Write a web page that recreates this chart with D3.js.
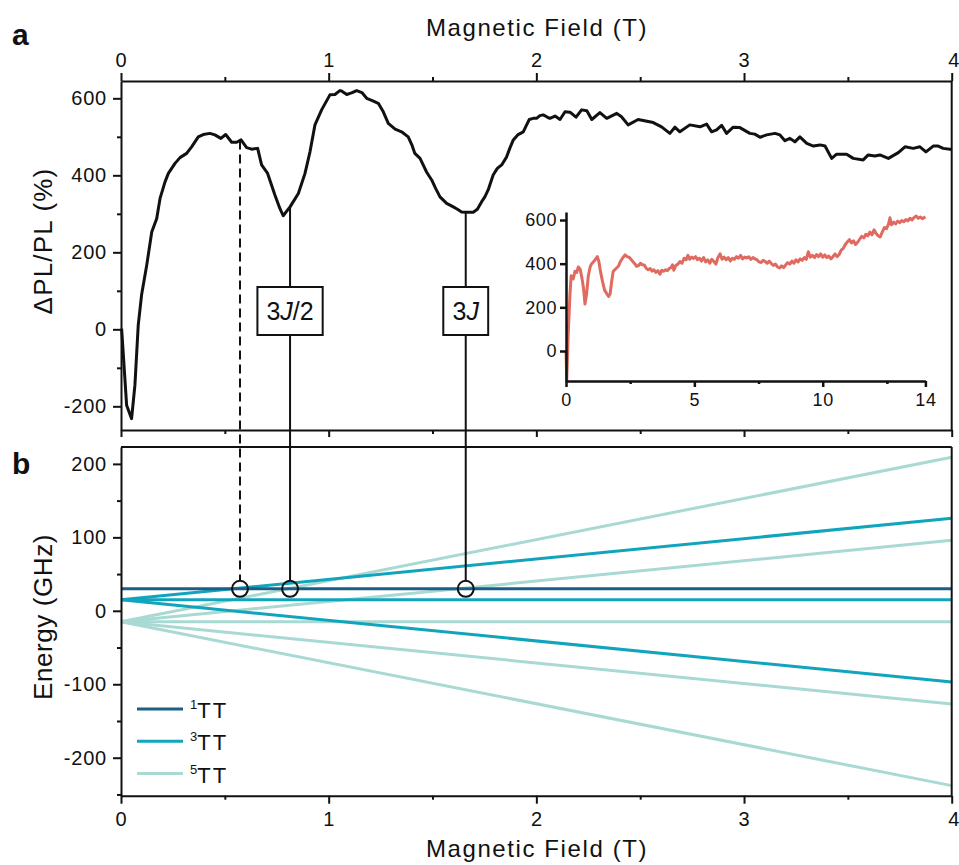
<!DOCTYPE html>
<html>
<head>
<meta charset="utf-8">
<script src="https://cdn.jsdelivr.net/npm/d3@7"></script>
<style>
  html, body { margin: 0; padding: 0; background: #fff; }
  svg { display: block; font-family: "Liberation Sans", Arial, sans-serif; }
</style>
</head>
<body>
<svg id="chart" width="959" height="865"></svg>
<script>
// ---- Panel a: PL change vs magnetic field (0–4 T) ----
const fieldA = [0.003, 0.027, 0.051, 0.067, 0.083, 0.099, 0.124, 0.148, 0.172, 0.188, 0.212, 0.228, 0.26, 0.284, 0.316, 0.34, 0.372, 0.396, 0.428, 0.452, 0.481, 0.504, 0.533, 0.557, 0.578, 0.605, 0.629, 0.658, 0.677, 0.706, 0.741, 0.765, 0.781, 0.814, 0.854, 0.886, 0.91, 0.934, 0.966, 1.006, 1.03, 1.054, 1.062, 1.087, 1.11, 1.135, 1.16, 1.183, 1.21, 1.239, 1.263, 1.287, 1.32, 1.351, 1.383, 1.40, 1.415, 1.44, 1.472, 1.496, 1.515, 1.536, 1.568, 1.6, 1.62, 1.64, 1.672, 1.696, 1.716, 1.736, 1.752, 1.768, 1.792, 1.812, 1.833, 1.857, 1.872, 1.889, 1.91, 1.937, 1.952, 1.966, 1.985, 2.001, 2.017, 2.033, 2.05, 2.065, 2.09, 2.114, 2.138, 2.162, 2.191, 2.218, 2.243, 2.267, 2.306, 2.339, 2.387, 2.41, 2.442, 2.49, 2.563, 2.603, 2.643, 2.667, 2.691, 2.739, 2.788, 2.82, 2.844, 2.868, 2.892, 2.916, 2.948, 2.98, 3.028, 3.052, 3.077, 3.109, 3.149, 3.173, 3.197, 3.221, 3.245, 3.269, 3.302, 3.334, 3.366, 3.39, 3.422, 3.446, 3.494, 3.526, 3.574, 3.598, 3.63, 3.654, 3.695, 3.743, 3.775, 3.815, 3.847, 3.876, 3.911, 3.935, 3.959, 4.0];
const dplA = [2, -197, -232, -145, 11, 89, 167, 253, 288, 340, 383, 405, 431, 446, 457, 474, 500, 506, 509, 505, 496, 506, 486, 486, 492, 472, 468, 470, 427, 405, 349, 314, 295, 318, 353, 405, 461, 531, 570, 609, 610, 620, 619, 610, 614, 620, 615, 600, 594, 587, 565, 535, 520, 513, 500, 480, 457, 444, 408, 388, 366, 344, 327, 318, 312, 305, 304, 304, 312, 331, 344, 362, 401, 418, 427, 448, 470, 492, 505, 513, 530, 545, 548, 548, 555, 557, 552, 548, 554, 545, 565, 564, 551, 570, 568, 545, 563, 548, 561, 552, 531, 545, 537, 526, 509, 525, 513, 531, 526, 533, 513, 518, 530, 509, 525, 524, 509, 507, 499, 505, 509, 505, 490, 496, 487, 500, 483, 476, 479, 476, 444, 455, 455, 444, 440, 453, 450, 453, 444, 459, 474, 470, 474, 461, 476, 476, 470, 467];

// ---- Inset: extended sweep (0–14 T) ----
const fieldInset = [0, 0.03, 0.08, 0.15, 0.2, 0.28, 0.35, 0.42, 0.48, 0.55, 0.62, 0.68, 0.74, 0.8, 0.87, 0.94, 1.0, 1.08, 1.15, 1.22, 1.28, 1.35, 1.42, 1.5, 1.59, 1.66, 1.72, 1.78, 1.84, 1.9, 1.97, 2.04, 2.12, 2.2, 2.3, 2.38, 2.45, 2.52, 2.6, 2.68, 2.75, 2.83, 2.9, 2.97, 3.05, 3.12, 3.2, 3.28, 3.35, 3.42, 3.5, 3.58, 3.66, 3.73, 3.8, 3.88, 3.95, 4.02, 4.1, 4.15, 4.2, 4.28, 4.36, 4.44, 4.52, 4.6, 4.68, 4.75, 4.82, 4.9, 4.97, 5.05, 5.12, 5.2, 5.28, 5.36, 5.44, 5.52, 5.6, 5.68, 5.76, 5.84, 5.92, 6.0, 6.08, 6.16, 6.24, 6.32, 6.4, 6.48, 6.56, 6.64, 6.72, 6.8, 6.88, 6.96, 7.04, 7.12, 7.2, 7.28, 7.36, 7.44, 7.52, 7.6, 7.68, 7.76, 7.84, 7.92, 8.0, 8.08, 8.16, 8.24, 8.32, 8.4, 8.48, 8.56, 8.64, 8.72, 8.8, 8.88, 8.96, 9.04, 9.12, 9.2, 9.28, 9.36, 9.44, 9.52, 9.6, 9.68, 9.76, 9.84, 9.92, 10.0, 10.08, 10.16, 10.24, 10.32, 10.4, 10.48, 10.56, 10.64, 10.72, 10.8, 10.88, 10.96, 11.04, 11.12, 11.2, 11.28, 11.36, 11.44, 11.52, 11.6, 11.68, 11.76, 11.84, 11.92, 12.0, 12.08, 12.16, 12.24, 12.32, 12.4, 12.48, 12.56, 12.62, 12.68, 12.76, 12.84, 12.92, 13.0, 13.08, 13.16, 13.24, 13.32, 13.4, 13.48, 13.56, 13.64, 13.72, 13.8, 13.88, 13.96, 14.0];
const dplInset = [0, -135, 60, 250, 345, 330, 365, 360, 385, 375, 335, 290, 215, 260, 345, 385, 400, 410, 420, 432, 410, 360, 320, 280, 262, 250, 262, 320, 365, 372, 380, 388, 410, 425, 440, 432, 430, 422, 410, 400, 388, 392, 402, 395, 394, 380, 372, 378, 366, 372, 360, 368, 352, 370, 365, 372, 368, 378, 383, 395, 370, 392, 398, 410, 402, 425, 418, 438, 420, 430, 424, 432, 418, 425, 412, 428, 408, 418, 402, 420, 410, 398, 428, 445, 420, 430, 418, 428, 412, 425, 420, 432, 425, 438, 422, 430, 426, 432, 420, 428, 422, 418, 408, 405, 415, 410, 402, 412, 400, 392, 398, 385, 380, 390, 382, 395, 405, 398, 412, 402, 418, 408, 422, 415, 428, 420, 455, 430, 438, 428, 442, 432, 445, 430, 440, 428, 435, 422, 432, 445, 432, 442, 462, 470, 488, 500, 510, 495, 505, 488, 498, 512, 525, 518, 535, 528, 545, 532, 555, 538, 528, 522, 545, 565, 560, 580, 610, 578, 590, 582, 595, 588, 598, 592, 602, 596, 608, 600, 612, 618, 608, 614, 606, 612, 615];

// ---- Panel b: pair-state energy levels at 0 T and 4 T ----
const fieldB = [0, 4];
const singletLevels = [[30, 30]];
const tripletLevels = [[15, 126], [15, 15], [15, -97]];
const quintetLevels = [[-15, 209], [-15, 96], [-15, -15], [-15, -127], [-15, -238]];

// ---- Level-crossing resonances ----
const resonanceFields = [0.573, 0.814, 1.66];
const resonanceDashed = [true, false, false];
const resonanceLabels = ["", "3J/2", "3J"];
const resonanceEnergy = 30;

// ---- Ticks ----
const xTicks = [0, 1, 2, 3, 4];
const xMinorTicks = [0.5, 1.5, 2.5, 3.5];
const yTicksA = [-200, 0, 200, 400, 600];
const yMinorTicksA = [-100, 100, 300, 500];
const yTicksB = [-200, -100, 0, 100, 200];
const yMinorTicksB = [-250, -150, -50, 50, 150];
const insetXTicks = [0, 5, 10, 14];
const insetXMinorTicks = [2.5, 7.5, 12.5];
const insetYTicks = [0, 200, 400, 600];

const legendSup = ["1", "3", "5"];
const legendName = ["TT", "TT", "TT"];

// ---- Colours ----
const colSinglet = "#1b5f88";
const colTriplet = "#11a4bd";
const colQuintet = "#a9d9d3";
const colInset = "#e06a5f";
const ink = "#111";
const FONT = '"Liberation Sans", Arial, sans-serif';

const svg = d3.select("#chart");
const fmt = d => String(d);   // plain integers, hyphen minus

// Scales
const x = d3.scaleLinear().domain([0, 4]).range([121, 951.7]);
const yA = d3.scaleLinear().domain([-261.5, 645]).range([430, 81]);
const yB = d3.scaleLinear().domain([-251.7, 223]).range([795.7, 447]);
const xI = d3.scaleLinear().domain([0, 14]).range([566, 925.4]);
const yI = d3.scaleLinear().domain([-137.4, 636.7]).range([381, 212]);

function styleAxis(g, size, width, spacing) {
  g.select(".domain").attr("stroke", ink).attr("stroke-width", width);
  g.selectAll(".tick line").attr("stroke", ink).attr("stroke-width", width);
  g.selectAll(".tick text")
    .attr("fill", ink)
    .attr("font-size", size)
    .attr("font-family", FONT)
    .attr("letter-spacing", spacing);
  g.attr("font-family", null).attr("font-size", null);
  return g;
}
function minorAxis(axisFn, scale, ticks, len, tr, width) {
  const g = svg.append("g").attr("transform", tr)
    .call(axisFn(scale).tickValues(ticks).tickSize(len).tickSizeOuter(0).tickFormat(""));
  g.select(".domain").remove();
  g.selectAll(".tick line").attr("stroke", ink).attr("stroke-width", width);
}

// ================= Panel b lines (drawn first) =================
const lineB = d3.line().x((d, i) => x(fieldB[i])).y(d => yB(d));
const levelsG = svg.append("g").attr("fill", "none").attr("stroke-width", 3);
levelsG.selectAll(".q").data(quintetLevels).join("path")
  .attr("d", lineB).attr("stroke", colQuintet);
levelsG.selectAll(".t").data(tripletLevels).join("path")
  .attr("d", lineB).attr("stroke", colTriplet);
levelsG.selectAll(".s").data(singletLevels).join("path")
  .attr("d", lineB).attr("stroke", colSinglet);

// ================= Panel a axes =================
const topAx = styleAxis(svg.append("g").attr("transform", "translate(0,81)")
  .call(d3.axisTop(x).tickValues(xTicks).tickFormat(fmt).tickSize(8).tickSizeOuter(0).tickPadding(6)), 20, 2, 0.8);
topAx.selectAll(".tick text").filter(d => d === 4).attr("text-anchor", "end").attr("dx", 8);
minorAxis(d3.axisTop, x, xMinorTicks, 4, "translate(0,81)", 2);

styleAxis(svg.append("g").attr("transform", "translate(121,0)")
  .call(d3.axisLeft(yA).tickValues(yTicksA).tickFormat(fmt).tickSize(8).tickSizeOuter(0).tickPadding(6)), 20, 2, 0.8);
minorAxis(d3.axisLeft, yA, yMinorTicksA, 4, "translate(121,0)", 2);

// bottom edge of panel a: ticks without labels
styleAxis(svg.append("g").attr("transform", "translate(0,430)")
  .call(d3.axisBottom(x).tickValues(xTicks).tickSize(7).tickSizeOuter(0).tickFormat("")), 20, 2, 0);
minorAxis(d3.axisBottom, x, xMinorTicks, 4, "translate(0,430)", 2);

// right edge of panel a
svg.append("line").attr("x1", x(4)).attr("x2", x(4)).attr("y1", 81).attr("y2", 430)
  .attr("stroke", ink).attr("stroke-width", 2);

// ================= Panel b axes =================
const botAx = styleAxis(svg.append("g").attr("transform", "translate(0,795.7)")
  .call(d3.axisBottom(x).tickValues(xTicks).tickFormat(fmt).tickSize(8).tickSizeOuter(0).tickPadding(8)), 20, 2, 0.8);
botAx.selectAll(".tick text").filter(d => d === 4).attr("text-anchor", "end").attr("dx", 8);
minorAxis(d3.axisBottom, x, xMinorTicks, 4, "translate(0,795.7)", 2);

styleAxis(svg.append("g").attr("transform", "translate(121,0)")
  .call(d3.axisLeft(yB).tickValues(yTicksB).tickFormat(fmt).tickSize(8).tickSizeOuter(0).tickPadding(6)), 20, 2, 0.8);
minorAxis(d3.axisLeft, yB, yMinorTicksB, 4, "translate(121,0)", 2);

svg.append("line").attr("x1", x(0)).attr("x2", x(4)).attr("y1", 447).attr("y2", 447)
  .attr("stroke", ink).attr("stroke-width", 2);
svg.append("line").attr("x1", x(4)).attr("x2", x(4)).attr("y1", 447).attr("y2", 795.7)
  .attr("stroke", ink).attr("stroke-width", 2);

// ================= Panel a curve =================
const curveA = fieldA.map((f, i) => [f, dplA[i]]);
svg.append("path").datum(curveA)
  .attr("fill", "none").attr("stroke", ink).attr("stroke-width", 3)
  .attr("stroke-linejoin", "round")
  .attr("d", d3.line().x(d => x(d[0])).y(d => yA(d[1])));

// ================= Resonance markers =================
function curveAt(f) {
  const i = d3.bisectLeft(fieldA, f);
  if (i <= 0) return dplA[0];
  if (i >= fieldA.length) return dplA[dplA.length - 1];
  const t = (f - fieldA[i - 1]) / (fieldA[i] - fieldA[i - 1]);
  return dplA[i - 1] + t * (dplA[i] - dplA[i - 1]);
}
const circleR = 8;
resonanceFields.forEach((f, i) => {
  svg.append("line")
    .attr("x1", x(f)).attr("x2", x(f))
    .attr("y1", yA(curveAt(f))).attr("y2", yB(resonanceEnergy) - circleR)
    .attr("stroke", ink).attr("stroke-width", 2)
    .attr("stroke-dasharray", resonanceDashed[i] ? "9,5" : null);
  svg.append("circle")
    .attr("cx", x(f)).attr("cy", yB(resonanceEnergy)).attr("r", circleR)
    .attr("fill", "none").attr("stroke", ink).attr("stroke-width", 2);

  if (resonanceLabels[i]) {
    const g = svg.append("g");
    const rect = g.append("rect");
    const t = g.append("text")
      .attr("x", x(f)).attr("y", 320)
      .attr("text-anchor", "middle").attr("font-size", 25).attr("fill", ink);
    const parts = resonanceLabels[i].split("J");
    t.append("tspan").text(parts[0]);
    t.append("tspan").attr("font-style", "italic").text("J");
    if (parts[1]) t.append("tspan").text(parts[1]);
    const bb = t.node().getBBox();
    const w = bb.width + 18;
    rect.attr("x", x(f) - w / 2).attr("y", 287).attr("width", w).attr("height", 48)
      .attr("fill", "#fff").attr("stroke", ink).attr("stroke-width", 2);
  }
});

// ================= Inset =================
const insetData = fieldInset.map((f, i) => [f, dplInset[i]]);
svg.append("path").datum(insetData)
  .attr("fill", "none").attr("stroke", colInset).attr("stroke-width", 3)
  .attr("stroke-linejoin", "round")
  .attr("d", d3.line().x(d => xI(d[0])).y(d => yI(d[1])));

styleAxis(svg.append("g").attr("transform", "translate(0,381)")
  .call(d3.axisBottom(xI).tickValues(insetXTicks).tickFormat(fmt).tickSize(6).tickSizeOuter(0).tickPadding(6)), 18, 2.5, 0.6);
minorAxis(d3.axisBottom, xI, insetXMinorTicks, 3, "translate(0,381)", 2.5);
styleAxis(svg.append("g").attr("transform", "translate(566,0)")
  .call(d3.axisLeft(yI).tickValues(insetYTicks).tickFormat(fmt).tickSize(6).tickSizeOuter(0).tickPadding(3)), 18, 2.5, 0.6);

// ================= Legend =================
const legendCols = [colSinglet, colTriplet, colQuintet];
const legY = [709, 741.3, 773.6];
legendCols.forEach((c, i) => {
  svg.append("line").attr("x1", 137).attr("x2", 183).attr("y1", legY[i]).attr("y2", legY[i])
    .attr("stroke", c).attr("stroke-width", 3);
  const t = svg.append("text").attr("x", 190).attr("y", legY[i] + 9)
    .attr("font-size", 22).attr("fill", ink);
  t.append("tspan").attr("font-size", 13).attr("dy", -9).text(legendSup[i]);
  t.append("tspan").attr("dy", 9).attr("letter-spacing", 2).text(legendName[i]);
});

// ================= Titles and panel letters =================
svg.append("text").attr("x", 537).attr("y", 36).attr("text-anchor", "middle")
  .attr("font-size", 24).attr("letter-spacing", 1.6).attr("fill", ink).text("Magnetic Field (T)");
svg.append("text").attr("x", 537).attr("y", 857).attr("text-anchor", "middle")
  .attr("font-size", 24).attr("letter-spacing", 1.6).attr("fill", ink).text("Magnetic Field (T)");
svg.append("text").attr("transform", "translate(52,241) rotate(-90)")
  .attr("text-anchor", "middle").attr("font-size", 26).attr("letter-spacing", 1.2).attr("fill", ink).text("ΔPL/PL (%)");
svg.append("text").attr("transform", "translate(52,617) rotate(-90)")
  .attr("text-anchor", "middle").attr("font-size", 26).attr("letter-spacing", 0.6).attr("fill", ink).text("Energy (GHz)");

svg.append("text").attr("x", 12).attr("y", 45)
  .attr("font-weight", "bold").attr("font-size", 30).attr("fill", ink).text("a");
svg.append("text").attr("x", 12).attr("y", 474)
  .attr("font-weight", "bold").attr("font-size", 30).attr("fill", ink).text("b");
</script>
</body>
</html>
